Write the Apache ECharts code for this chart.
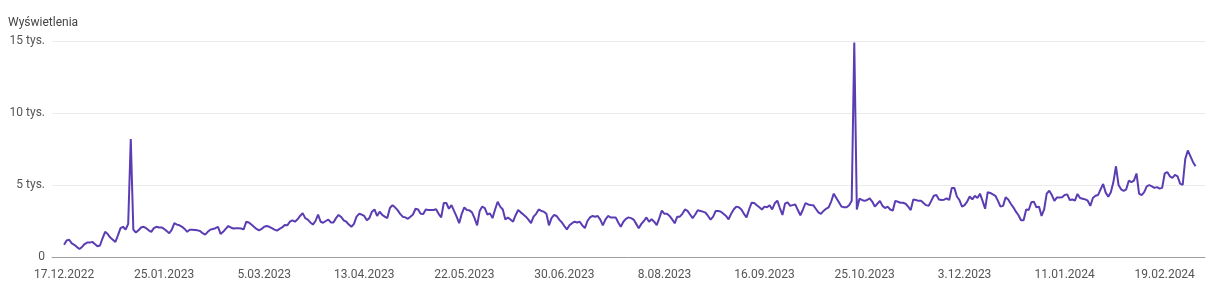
<!DOCTYPE html>
<html>
<head>
<meta charset="utf-8">
<script src="https://cdn.jsdelivr.net/npm/echarts@6/dist/echarts.min.js"></script>
<style>
html,body{margin:0;padding:0;background:#fff;}
#chart{width:1222px;height:300px;}
</style>
</head>
<body>
<div id="chart"></div>
<script>
// Daily views (thousands) starting 17.12.2022, one value per day
const viewsThousands = [
  0.85,1.15,1.2,0.95,0.85,0.7,0.55,0.7,0.9,1.0,1.0,1.05,0.9,0.75,0.8,1.3,1.75,1.6,1.35,1.2,
  1.05,1.5,2.0,2.1,1.9,2.3,8.2,1.9,1.7,1.85,2.05,2.1,2.0,1.85,1.75,2.0,
  2.1,2.05,2.05,1.95,1.8,1.65,1.9,2.35,2.25,2.2,2.1,1.95,1.75,1.9,1.9,1.88,1.85,1.8,1.65,1.55,
  1.75,1.9,1.95,2.0,2.1,1.6,1.75,1.95,2.15,2.05,1.98,2.0,2.0,1.98,1.92,2.45,2.4,
  2.25,2.1,1.95,1.85,1.95,2.1,2.15,2.1,2.0,1.9,1.83,1.95,2.05,2.22,2.2,2.45,2.55,2.45,2.62,2.85,
  3.05,2.7,2.6,2.4,2.25,2.5,2.95,2.45,2.38,2.5,2.6,2.4,2.4,2.7,2.92,2.78,2.55,2.45,
  2.25,2.1,2.3,2.8,3.0,2.95,2.85,2.55,2.7,3.15,3.3,2.85,3.15,2.92,2.8,2.7,3.4,3.6,3.45,3.25,
  3.0,2.8,2.75,2.65,2.8,2.95,3.35,3.3,3.0,2.99,3.3,3.27,3.26,3.26,3.31,3.0,2.75,
  3.75,3.75,3.35,3.6,3.2,2.8,2.35,3.0,3.45,3.26,3.24,3.1,2.7,2.2,3.2,3.5,3.4,2.95,3.03,2.7,
  3.3,3.84,3.5,3.3,2.6,2.75,2.6,2.45,2.9,3.26,3.1,2.95,2.8,2.6,2.35,2.8,3.0,
  3.3,3.2,3.15,3.0,2.2,2.7,2.92,2.85,2.6,2.4,2.15,1.92,2.2,2.35,2.45,2.4,2.45,2.2,2.0,2.5,
  2.75,2.85,2.8,2.85,2.6,2.2,2.6,2.85,2.75,2.75,2.75,2.4,2.1,2.45,2.65,2.75,2.7,
  2.6,2.3,2.0,2.3,2.5,2.75,2.45,2.62,2.45,2.22,2.7,3.22,3.0,3.0,2.85,2.62,2.34,2.8,2.8,3.0,
  3.3,3.2,2.95,2.7,2.95,3.25,3.2,3.15,3.08,2.85,2.6,2.8,3.2,3.2,3.15,3.0,2.85,
  2.62,3.0,3.3,3.5,3.45,3.3,3.0,2.75,3.3,3.77,3.75,3.6,3.45,3.3,3.5,3.45,3.6,3.3,3.73,3.91,
  3.4,2.92,3.7,3.8,3.55,3.6,3.65,3.26,2.9,3.3,3.75,3.65,3.61,3.6,3.35,3.1,3.0,
  3.2,3.35,3.45,3.85,4.4,4.1,3.8,3.5,3.45,3.45,3.6,3.9,14.9,3.3,4.05,3.96,3.9,3.96,4.07,3.85,
  3.5,3.7,3.9,3.55,3.4,3.5,3.3,3.22,3.9,3.84,3.77,3.77,3.7,3.5,3.26,4.0,3.96,3.9,
  3.91,3.75,3.6,3.55,3.9,4.25,4.3,4.0,3.96,3.98,4.07,3.96,4.8,4.8,4.2,3.95,3.5,3.6,3.85,4.2,
  4.0,4.25,4.1,4.4,3.9,3.35,4.5,4.45,4.35,4.25,3.9,3.5,3.55,4.15,4.0,3.7,3.45,
  3.15,2.9,2.55,2.55,3.3,3.26,3.8,3.84,3.45,3.5,2.85,3.3,4.4,4.6,4.3,3.9,4.14,4.14,4.15,4.3,
  4.35,3.96,4.0,3.91,4.38,4.1,4.05,4.0,3.91,3.55,4.1,4.25,4.3,4.7,5.07,4.47,4.19,
  4.5,5.2,6.3,5.0,4.7,4.6,4.7,5.3,5.2,5.3,5.8,4.4,4.3,4.5,4.9,5.0,4.9,4.8,4.85,4.75,
  4.8,5.8,5.9,5.6,5.5,5.7,5.6,5.1,5.0,6.8,7.4,7.0,6.6,6.3
];
const tickDays = [0,39,78,117,156,195,234,273,312,351,390,429];
const tickLabels = ['17.12.2022','25.01.2023','5.03.2023','13.04.2023','22.05.2023','30.06.2023',
  '8.08.2023','16.09.2023','25.10.2023','3.12.2023','11.01.2024','19.02.2024'];
const yTicks = [0,5,10,15];
const yTickLabels = ['0','5 tys.','10 tys.','15 tys.'];
const yTitle = 'Wyświetlenia';

const seriesData = viewsThousands.map((v,i)=>[i,v]);
const chart = echarts.init(document.getElementById('chart'), null, {renderer:'canvas'});
chart.setOption({
  animation:false,
  backgroundColor:'#ffffff',
  textStyle:{fontFamily:'Roboto, "Noto Sans", sans-serif'},
  title:{
    text:yTitle, left:3, top:12,
    textStyle:{fontSize:12, fontWeight:'normal', color:'#444', fontFamily:'Roboto, sans-serif'}
  },
  grid:{left:52, right:17, top:41, bottom:43, containLabel:false},
  xAxis:{
    type:'value', min:-4.7, max:444.7,
    axisLine:{show:true, lineStyle:{color:'#9e9e9e', width:1}},
    axisTick:{show:false},
    splitLine:{show:false},
    axisLabel:{
      customValues:tickDays, margin:12, color:'#555', fontSize:12,
      formatter:(v)=>{const k=tickDays.indexOf(Math.round(v)); return k>=0?tickLabels[k]:'';}
    }
  },
  yAxis:{
    type:'value', min:0, max:15, interval:5,
    axisLine:{show:false}, axisTick:{show:false},
    splitLine:{lineStyle:{color:'#ebebeb', width:1}},
    axisLabel:{
      margin:7, color:'#555', fontSize:12,
      formatter:(v)=>{const k=yTicks.indexOf(v); return k>=0?yTickLabels[k]:'';}
    }
  },
  series:[{
    type:'line', data:seriesData, showSymbol:false, smooth:false,
    lineStyle:{color:'#5b3db3', width:2}, itemStyle:{color:'#5b3db3'}
  }]
});
</script>
</body>
</html>
